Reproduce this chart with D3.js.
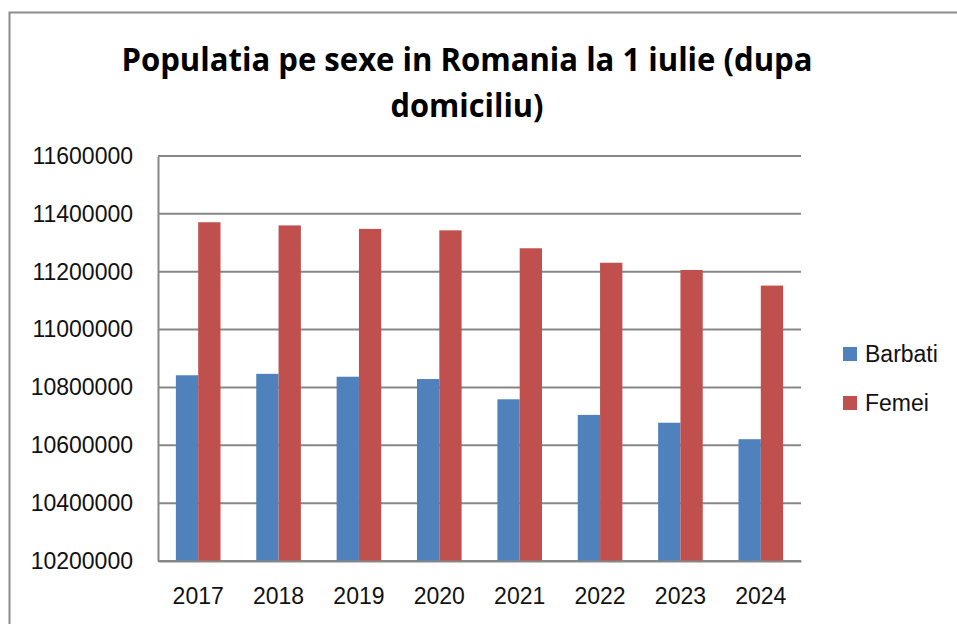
<!DOCTYPE html>
<html>
<head>
<meta charset="utf-8">
<script src="https://cdn.jsdelivr.net/npm/d3@7"></script>
<style>
  html, body { margin: 0; padding: 0; background: #fff; }
  svg { display: block; }
</style>
</head>
<body>
<div id="chart"></div>
<script>
(function() {
    'use strict';

    // data
    var years = ['2017', '2018', '2019', '2020', '2021', '2022', '2023', '2024'];
    var barbati = [10842000, 10847000, 10837000, 10829000, 10759000, 10705000, 10678000, 10621000];
    var femei = [11371000, 11360000, 11348000, 11343000, 11281000, 11231000, 11206000, 11152000];
    var seriesNames = ['Barbati', 'Femei'];
    var yTicks = [10200000, 10400000, 10600000, 10800000, 11000000, 11200000, 11400000, 11600000];
    var titleLines = ['Populatia pe sexe in Romania la 1 iulie (dupa', 'domiciliu)'];

    var fullWidth = 957, fullHeight = 624;
    var colors = ['#4f81bd', '#c0504d'];
    var gridColor = '#878787';
    var labelFont = '"Liberation Sans", Arial, sans-serif';

    var area = { left: 158, top: 156, right: 801, bottom: 561 };

    var svg = d3.select('#chart')
      .append('svg')
        .attr('width', fullWidth)
        .attr('height', fullHeight);

    // outer frame (cropped on right / bottom)
    svg.append('rect')
      .attr('x', 9.5)
      .attr('y', 12.5)
      .attr('width', fullWidth + 20)
      .attr('height', fullHeight + 20)
      .attr('fill', '#fff')
      .attr('stroke', '#8c8c8c')
      .attr('stroke-width', 2);

    // title - squeezed to the width of the original (narrow) lines
    var titleWidths = [691, 153];
    var titleBase = [71, 117];
    svg.append('g')
      .attr('class', 'title')
    .selectAll('text')
    .data(titleLines)
    .enter().append('text')
      .attr('x', 467)
      .attr('y', function(d, i) { return titleBase[i]; })
      .attr('text-anchor', 'middle')
      .attr('textLength', function(d, i) { return titleWidths[i]; })
      .attr('lengthAdjust', 'spacingAndGlyphs')
      .style('font-family', '"Open Sans", "Liberation Sans", sans-serif')
      .style('font-weight', 700)
      .style('font-size', '33px')
      .attr('fill', '#000')
      .text(function(d) { return d; });

    var x0 = d3.scaleBand()
      .domain(years)
      .range([area.left, area.right])
      .paddingInner(0.445)
      .paddingOuter(0.2225);

    var x1 = d3.scaleBand()
      .domain(seriesNames)
      .range([0, x0.bandwidth()]);

    var y = d3.scaleLinear()
      .domain([yTicks[0], yTicks[yTicks.length - 1]])
      .range([area.bottom, area.top]);

    var chart = svg.append('g').attr('class', 'chart');

    // horizontal grid
    chart.append('g')
      .attr('id', 'horizontalGrid')
    .selectAll('line')
    .data(yTicks)
    .enter().append('line')
      .attr('x1', area.left)
      .attr('x2', area.right)
      .attr('y1', function(d) { return y(d); })
      .attr('y2', function(d) { return y(d); })
      .attr('stroke', gridColor)
      .attr('stroke-width', 2);

    // bars
    var rows = years.map(function(yr, i) {
        return { year: yr, values: [barbati[i], femei[i]] };
    });

    var group = chart.selectAll('.year')
    .data(rows)
    .enter().append('g')
      .attr('class', 'year')
      .attr('transform', function(d) { return 'translate(' + x0(d.year) + ',0)'; });

    group.selectAll('rect')
    .data(function(d) {
        return d.values.map(function(v, k) { return { name: seriesNames[k], value: v, k: k }; });
    })
    .enter().append('rect')
      .attr('x', function(d) { return x1(d.name); })
      .attr('width', x1.bandwidth())
      .attr('y', function(d) { return y(d.value); })
      .attr('height', function(d) { return area.bottom - y(d.value); })
      .attr('fill', function(d) { return colors[d.k]; });

    // axes
    var yAxis = d3.axisLeft(y)
      .tickValues(yTicks)
      .tickSize(0)
      .tickPadding(25)
      .tickFormat(d3.format('d'));

    var yG = chart.append('g')
      .attr('transform', 'translate(' + area.left + ',0)')
      .call(yAxis);
    yG.select('.domain').attr('stroke', gridColor).attr('stroke-width', 2);
    yG.selectAll('text')
      .style('font-family', labelFont)
      .style('font-size', '23px')
      .attr('fill', '#111');

    var xAxis = d3.axisBottom(x0)
      .tickSize(0)
      .tickPadding(27);

    var xG = chart.append('g')
      .attr('transform', 'translate(0,' + area.bottom + ')')
      .call(xAxis);
    xG.select('.domain').attr('stroke', gridColor).attr('stroke-width', 2);
    xG.selectAll('text')
      .style('font-family', labelFont)
      .style('font-size', '23px')
      .attr('fill', '#111');

    // legend
    var legend = svg.append('g')
      .attr('class', 'legend')
    .selectAll('g')
    .data(seriesNames)
    .enter().append('g')
      .attr('transform', function(d, i) { return 'translate(843,' + (347 + i * 49) + ')'; });

    legend.append('rect')
      .attr('width', 14)
      .attr('height', 14)
      .attr('fill', function(d, i) { return colors[i]; });

    legend.append('text')
      .attr('x', 22)
      .attr('y', 15)
      .style('font-family', labelFont)
      .style('font-size', '23px')
      .attr('fill', '#111')
      .text(function(d) { return d; });
})();
</script>
</body>
</html>
